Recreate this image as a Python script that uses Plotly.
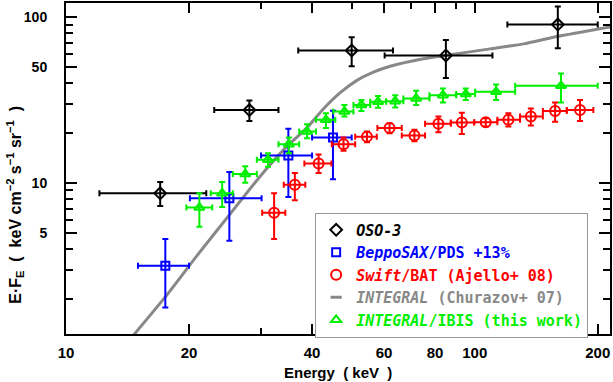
import plotly.graph_objects as go

# ---------------- data ----------------
oso_E   = [17.0, 28.1, 50.0, 85.0, 159.7]
oso_Elo = [12.07, 23.05, 37.0, 60.2, 120.2]
oso_Ehi = [22.04, 33.1, 63.1, 110.5, 200.0]
oso_F   = [8.64, 27.5, 62.9, 58.7, 90.1]
oso_Flo = [7.25, 23.6, 50.5, 42.9, 64.9]
oso_Fhi = [10.1, 31.4, 75.5, 72.8, 115.8]

sax_E   = [17.5, 25.1, 35.0, 45.0]
sax_Elo = [15.0, 20.1, 30.0, 40.0]
sax_Ehi = [20.0, 30.1, 40.0, 50.0]
sax_F   = [3.16, 8.07, 14.6, 18.8]
sax_Flo = [1.77, 4.48, 8.21, 10.5]
sax_Fhi = [4.58, 11.64, 21.2, 27.2]

bat_E   = [32.3, 36.3, 41.5, 47.75, 54.5, 61.9, 71.2, 81.5, 93.0, 106.4, 120.9, 137.2, 157.3, 181.0]
bat_Elo = [30.2, 34.1, 38.3, 44.7, 51.0, 57.8, 66.3, 75.6, 87.4, 99.7, 113.6, 129.1, 146.8, 168.0]
bat_Ehi = [34.4, 38.5, 44.6, 51.0, 57.6, 66.3, 75.6, 87.4, 99.7, 113.6, 129.1, 146.8, 168.0, 195.1]
bat_F   = [6.61, 9.73, 13.07, 17.1, 19.0, 21.4, 19.3, 22.7, 23.1, 23.2, 24.0, 25.1, 27.1, 27.5]
bat_Flo = [4.58, 7.85, 11.48, 15.6, 17.6, 19.9, 17.8, 20.2, 19.7, 21.9, 21.9, 22.2, 23.4, 23.6]
bat_Fhi = [8.64, 11.48, 14.8, 18.8, 20.4, 22.9, 20.9, 25.1, 26.5, 24.5, 26.3, 28.1, 30.5, 31.6]

ibis_E   = [21.2, 24.1, 27.45, 31.2, 35.1, 38.9, 43.25, 48.0, 52.8, 58.0, 63.9, 71.9, 83.6, 95.1, 112.8, 162.6]
ibis_Elo = [19.7, 22.6, 25.6, 29.3, 33.1, 37.2, 40.9, 45.1, 50.5, 55.5, 60.7, 66.9, 77.5, 90.1, 100.2, 125.6]
ibis_Ehi = [22.8, 25.6, 29.3, 33.1, 37.2, 40.9, 45.6, 50.5, 55.5, 60.7, 66.9, 77.5, 90.1, 100.2, 125.6, 200.0]
ibis_F   = [7.09, 8.64, 11.3, 13.8, 17.1, 20.4, 24.0, 26.9, 29.5, 30.8, 31.1, 32.3, 33.8, 34.3, 35.4, 38.5]
ibis_Flo = [5.43, 7.15, 10.0, 12.5, 15.1, 18.6, 21.4, 25.1, 27.1, 28.4, 28.5, 29.5, 30.5, 31.6, 31.6, 30.5]
ibis_Fhi = [8.64, 10.1, 12.6, 15.1, 18.8, 22.6, 26.3, 29.5, 31.6, 33.4, 33.8, 35.9, 37.1, 37.1, 39.2, 45.6]

chur_E = [14.64, 17.5, 20.92, 24.99, 29.87, 34.39, 38.86, 42.67, 46.88, 51.5, 56.5, 62.1, 74.9, 84.65, 109.1, 131.6, 158.8, 216.8]
chur_F = [1.208, 2.05, 3.64, 6.32, 10.97, 16.2, 21.5, 28.0, 35.0, 41.5, 46.5, 50.5, 56.05, 58.7, 64.3, 68.9, 76.3, 87.6]

x_tickvals = [10, 20, 40, 60, 80, 100, 200]
x_minor = [30, 50, 70, 90]
y_tickvals = [5, 10, 50, 100]
y_minor = [2, 3, 4, 6, 7, 8, 9, 20, 30, 40, 60, 70, 80, 90]

names = {
    "oso": '<i>OSO-3</i>',
    "sax": '<span style="color:#0000ff"><i>BeppoSAX</i>/PDS +13%</span>',
    "bat": '<span style="color:#ff0000"><i>Swift</i>/BAT (Ajello+ 08)</span>',
    "chur": '<span style="color:#888888"><i>INTEGRAL</i> (Churazov+ 07)</span>',
    "ibis": '<span style="color:#00ee00"><i>INTEGRAL</i>/IBIS (this work)</span>',
}

FONT = "Liberation Sans, Arial, sans-serif"
LEGFONT = "DejaVu Sans Mono, monospace"
NB = "\u00a0"


def errs(v, lo, hi):
    return [h - a for a, h in zip(v, hi)], [a - l for a, l in zip(v, lo)]


fig = go.Figure()

# model curve
fig.add_trace(go.Scatter(x=chur_E, y=chur_F, mode="lines", showlegend=False,
                         line=dict(color="#888888", width=3, shape="spline", smoothing=0.6)))


def add_pts(E, Elo, Ehi, F, Flo, Fhi, color, symbol, size, name, rank):
    xp, xm = errs(E, Elo, Ehi)
    yp, ym = errs(F, Flo, Fhi)
    fig.add_trace(go.Scatter(
        x=E, y=F, mode="markers", name=name, legendrank=rank,
        marker=dict(symbol=symbol, size=size, color=color, line=dict(color=color, width=2)),
        error_x=dict(type="data", symmetric=False, array=xp, arrayminus=xm,
                     color=color, thickness=2, width=3),
        error_y=dict(type="data", symmetric=False, array=yp, arrayminus=ym,
                     color=color, thickness=2, width=3),
    ))


add_pts(oso_E, oso_Elo, oso_Ehi, oso_F, oso_Flo, oso_Fhi, "#000000", "diamond-open", 9, names["oso"], 1)
add_pts(sax_E, sax_Elo, sax_Ehi, sax_F, sax_Flo, sax_Fhi, "#0000ff", "square-open", 8, names["sax"], 2)
add_pts(bat_E, bat_Elo, bat_Ehi, bat_F, bat_Flo, bat_Fhi, "#ff0000", "circle-open", 10, names["bat"], 3)
add_pts(ibis_E, ibis_Elo, ibis_Ehi, ibis_F, ibis_Flo, ibis_Fhi, "#00ee00", "triangle-up-open", 9, names["ibis"], 5)

# legend-only entry for the model curve (short dash)
fig.add_trace(go.Scatter(x=[None], y=[None], mode="markers", name=names["chur"], legendrank=4,
                         marker=dict(symbol="line-ew-open", size=8, color="#888888",
                                     line=dict(color="#888888", width=3))))

axis_common = dict(
    type="log", showgrid=False, zeroline=False, showline=True, linewidth=2, linecolor="black",
    mirror="ticks", ticks="inside", tickwidth=2, tickcolor="black",
)

fig.update_xaxes(**axis_common, range=[1.0, 2.331], tickmode="array",
                 tickvals=x_tickvals, ticktext=[str(v) for v in x_tickvals], ticklen=10,
                 tickfont=dict(family=FONT, size=15, color="black", weight="bold"),
                 minor=dict(tickmode="array", tickvals=x_minor, ticks="inside", ticklen=6,
                            tickwidth=2, tickcolor="black", showgrid=False),
                 ticklabelstandoff=4)
fig.update_yaxes(**axis_common, range=[0.088, 2.085], tickmode="array",
                 tickvals=y_tickvals, ticktext=[str(v) for v in y_tickvals], ticklen=11,
                 tickfont=dict(family=FONT, size=14, color="black", weight="bold"),
                 minor=dict(tickmode="array", tickvals=y_minor, ticks="inside", ticklen=7,
                            tickwidth=2, tickcolor="black", showgrid=False),
                 ticklabelstandoff=14)

ytitle = ("E·F<sub>E</sub>" + NB * 2 + "(" + NB * 2 + "keV cm<sup>−2</sup> s<sup>−1</sup> sr<sup>−1</sup>"
          + NB * 2 + ")")

fig.update_layout(
    width=613, height=382,
    margin=dict(l=66, r=3, t=1, b=48),
    paper_bgcolor="white", plot_bgcolor="white",
    showlegend=True,
    legend=dict(x=0.458, y=0.367, xanchor="left", yanchor="top",
                bgcolor="white", bordercolor="#999999", borderwidth=1,
                font=dict(family=LEGFONT, size=15, color="black", weight="bold"),
                itemwidth=30, tracegroupgap=0),
    annotations=[
        dict(text="Energy" + NB + " (" + NB + "keV" + NB + " )", xref="paper", yref="paper", x=0.5, y=-0.117,
             xanchor="center", yanchor="middle", showarrow=False,
             font=dict(family=FONT, size=15, color="black", weight="bold")),
        dict(text=ytitle,
             xref="paper", yref="paper", x=-0.094, y=0.39, textangle=-90,
             xanchor="center", yanchor="middle", showarrow=False,
             font=dict(family=FONT, size=16, color="black", weight="bold")),
    ],
)

fig.write_html("out.html", config={"displayModeBar": False},
               post_script="document.body.style.margin='0';document.body.style.overflow='hidden';")
